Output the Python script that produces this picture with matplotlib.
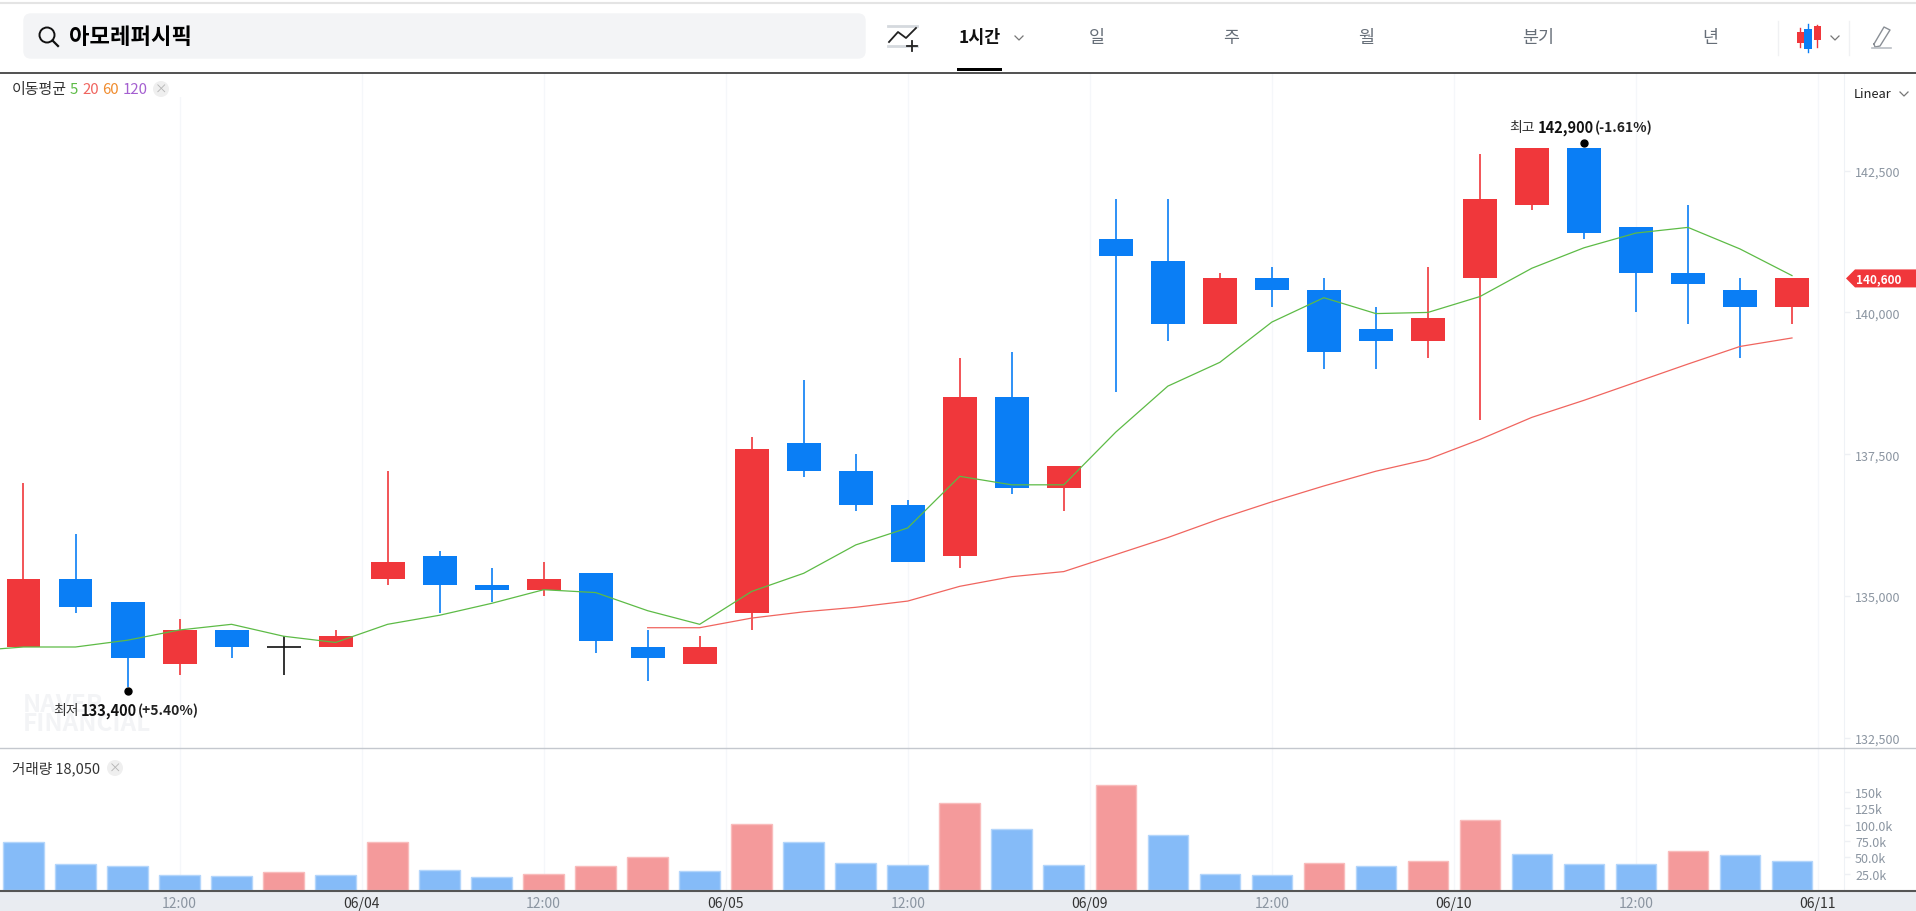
#!/usr/bin/env python3
"""1시간 candle chart for 아모레퍼시픽 with moving averages and volume."""

import matplotlib

matplotlib.use("Agg")
import matplotlib.pyplot as plt
import numpy as np
from matplotlib.patches import Circle, FancyBboxPatch, Polygon, Rectangle

plt.rcParams["font.family"] = ["Noto Sans CJK KR", "DejaVu Sans"]

W, H = 1916, 912
UP, DOWN, FLAT = "#f0373b", "#0a7ef5", "#111111"
UP_VOL, DOWN_VOL = "#f49a9b", "#85bbf8"
AXIS_TEXT = "#8b95a1"
GRID = "#f5f7fa"

# hourly candles
opens = [134100, 135300, 134900, 133800, 134400, 134100, 134100, 135300, 135700, 135200, 135100, 135400,
         134100, 133800, 134700, 137700, 137200, 136600, 135700, 138500, 136900, 141300, 140900, 139800,
         140600, 140400, 139700, 139500, 140600, 141900, 142900, 141500, 140700, 140400, 140100]
closes = [135300, 134800, 133900, 134400, 134100, 134100, 134300, 135600, 135200, 135100, 135300, 134200,
          133900, 134100, 137600, 137200, 136600, 135600, 138500, 136900, 137300, 141000, 139800, 140600,
          140400, 139300, 139500, 139900, 142000, 142900, 141400, 140700, 140500, 140100, 140600]
highs = [137000, 136100, 134900, 134600, 134400, 134300, 134400, 137200, 135800, 135500, 135600, 135400,
         134400, 134300, 137800, 138800, 137500, 136700, 139200, 139300, 137300, 142000, 142000, 140700,
         140800, 140600, 140100, 140800, 142800, 142900, 142900, 141500, 141900, 140600, 140600]
lows = [134100, 134700, 133400, 133600, 133900, 133600, 134100, 135200, 134700, 134900, 135000, 134000,
        133500, 133800, 134400, 137100, 136500, 135600, 135500, 136800, 136500, 138600, 139500, 139800,
        140100, 139000, 139000, 139200, 138100, 141800, 141300, 140000, 139800, 139200, 139800]
volumes = [73500, 40200, 36500, 23500, 21700, 27200, 23500, 73500, 30900, 19800, 25400, 36500,
           51300, 29000, 101000, 73500, 42000, 38300, 132700, 93900, 38300, 160500, 84600, 25400,
           23500, 42000, 36500, 43900, 106800, 55000, 40200, 40200, 60500, 53000, 43900]
# volume colour does not always follow the candle in the picture
volume_up = [0, 0, 0, 0, 0, 1, 0, 1, 0, 0, 1, 1,
             1, 0, 1, 0, 0, 0, 1, 0, 0, 1, 0, 0,
             0, 1, 0, 1, 1, 0, 0, 0, 1, 0, 0]

# first value of ma5 belongs to the candle just left of the chart
ma5 = [134030, 134100, 134100, 134220, 134400, 134500, 134290, 134180, 134500, 134660, 134870, 135110, 135060,
       134740, 134500, 135080, 135400, 135900, 136200, 137110, 136960, 136960, 137890, 138700, 139120,
       139830, 140260, 139980, 140000, 140280, 140780, 141140, 141400, 141500, 141120, 140650]
ma20 = [134440, 134440, 134610, 134720, 134800, 134910, 135170, 135340, 135430, 135730, 136030, 136360,
        136660, 136940, 137200, 137410, 137760, 138150, 138450, 138770, 139090, 139400, 139550]

price_ticks = [132500, 135000, 137500, 140000, 142500]
volume_ticks = [25000, 50000, 75000, 100000, 125000, 150000]
volume_tick_labels = ["25.0k", "50.0k", "75.0k", "100.0k", "125k", "150k"]
date_ticks = [3, 6.5, 10, 13.5, 17, 20.5, 24, 27.5, 31, 34.5]
date_labels = ["12:00", "06/04", "12:00", "06/05", "12:00", "06/09", "12:00", "06/10", "12:00", "06/11"]
last_price = 140600


def px_axes(fig, left, top, right, bottom):
    return fig.add_axes([left / W, 1 - bottom / H, (right - left) / W, (bottom - top) / H])


def chevron(ax, x, y, size=4, color="#777777"):
    ax.plot([x - size, x, x + size], [y - size / 2, y + size / 2, y - size / 2], color=color, lw=0.9)


def close_button(ax, x, y):
    ax.add_patch(Circle((x, y), 8, color="#efefef", lw=0))
    ax.text(x, y, "×", fontsize=9, color="#b5b5b5", ha="center", va="center")


fig = plt.figure(figsize=(W / 100, H / 100), dpi=100, facecolor="white")
fig.add_artist(Rectangle((0, 0), 1, 20.5 / H, transform=fig.transFigure, color="#e9ecf1", lw=0, zorder=-1))

ax = px_axes(fig, 0, 73.7, 1844, 748.7)
vol = px_axes(fig, 0, 748.7, 1844, 891.7)
x = np.arange(len(opens))

for axis in (ax, vol):
    axis.set_xlim(-0.4517, 35.0)
    axis.set_xticks(date_ticks)
    axis.grid(axis="x", color=GRID, lw=1)
    axis.set_axisbelow(True)
    axis.yaxis.tick_right()
    for name in ("top", "left", "bottom"):
        axis.spines[name].set_visible(False)
    axis.spines["right"].set_color("#eff2f6")

# price pane
ax.set_ylim(132324, 144228)
colors = [FLAT if c == o else (UP if c > o else DOWN) for o, c in zip(opens, closes)]
ax.vlines(x, lows, highs, colors=colors, lw=1.2, zorder=2)
bottoms = np.minimum(opens, closes)
heights = np.abs(np.array(closes) - np.array(opens))
ax.bar(x, heights, bottom=bottoms, width=0.653, color=colors, lw=0, zorder=3)
ax.hlines(closes[5], x[5] - 0.3265, x[5] + 0.3265, colors=FLAT, lw=1.2, zorder=3)
ax.plot(np.arange(-1, 35), ma5, color="#5dbb46", lw=0.9, zorder=4)
ax.plot(np.arange(12, 35), ma20, color="#f0655f", lw=0.9, zorder=4)
ax.set_yticks(price_ticks)
ax.set_yticklabels([f"{v:,}" for v in price_ticks])
ax.tick_params(axis="y", length=4, width=1, color="#eef0f4", labelcolor=AXIS_TEXT, labelsize=9, pad=4)
ax.tick_params(axis="x", length=0, labelbottom=False)
ax.plot([x[2]], [lows[2] - 80], "o", color="black", ms=5, zorder=5)
ax.plot([x[30]], [highs[30] + 80], "o", color="black", ms=5, zorder=5)

# volume pane
vol.set_ylim(-600, 217000)
vol_colors = [UP_VOL if up else DOWN_VOL for up in volume_up]
vol_edges = ["#f9bcbc" if up else "#b4d6fb" for up in volume_up]
vol.bar(x, volumes, width=0.78, color=vol_colors, edgecolor=vol_edges, lw=1, zorder=2)
vol.set_yticks(volume_ticks)
vol.set_yticklabels(volume_tick_labels)
vol.tick_params(axis="y", length=4, width=1, color="#eef0f4", labelcolor=AXIS_TEXT, labelsize=9, pad=4)
vol.set_xticklabels(date_labels)
vol.tick_params(axis="x", length=0, labelsize=10, pad=3.5, labelcolor="#333333")
for label, text in zip(vol.get_xticklabels(), date_labels):
    if text == "12:00":
        label.set_color(AXIS_TEXT)

# page furniture, drawn in figure pixels
ui = fig.add_axes([0, 0, 1, 1], facecolor="none")
ui.set_xlim(0, W)
ui.set_ylim(H, 0)
ui.axis("off")

ui.plot([0, W], [891.7, 891.7], color="#555555", lw=1.5)
ui.plot([0, W], [748.5, 748.5], color="#c4c8ce", lw=1)
ui.plot([0, W], [73.5, 73.5], color="#333333", lw=1.2)
ui.plot([0, W], [3.5, 3.5], color="#e4e4e4", lw=1.5)

ui.add_patch(FancyBboxPatch((24, 15), 841, 44, boxstyle="round,pad=0,rounding_size=7",
                            mutation_aspect=1, fc="#f3f4f6", ec="#f3f4f6", lw=1))
ui.add_patch(Circle((47, 36), 7.5, fc="none", ec="#111111", lw=1.4))
ui.plot([52.5, 58], [41.5, 47], color="#111111", lw=1.6)
ui.text(69, 38, "아모레퍼시픽", fontsize=16, fontweight="bold", color="#000000", va="center")

ui.plot([888, 917], [27, 27], color="#d5d9de", lw=2)
ui.plot([888, 917], [47, 47], color="#d5d9de", lw=2)
ui.plot([889, 898, 906, 916], [43, 33, 39, 29], color="#222222", lw=1.3)
ui.plot([912, 912], [42, 52], color="#222222", lw=1.3)
ui.plot([907, 917], [47, 47], color="#222222", lw=1.3)

ui.text(980, 38, "1시간", fontsize=12.5, fontweight="bold", color="#111111", ha="center", va="center")
chevron(ui, 1019, 39)
ui.add_patch(Rectangle((957, 69), 45, 3, color="#000000", lw=0))
for label, xpos in zip(["일", "주", "월", "분기", "년"], [1097, 1231, 1366, 1538, 1710]):
    ui.text(xpos, 38, label, fontsize=12.5, color="#666e78", ha="center", va="center")

ui.plot([1778, 1778], [22, 56], color="#f0f1f3", lw=1)
ui.plot([1849, 1849], [22, 56], color="#f0f1f3", lw=1)
ui.plot([1800, 1800], [29, 48], color=UP, lw=1)
ui.add_patch(Rectangle((1797, 33), 7, 11, color=UP, lw=0))
ui.plot([1808, 1808], [25, 53], color=DOWN, lw=1)
ui.add_patch(Rectangle((1804, 30), 8, 20, color=DOWN, lw=0))
ui.plot([1817, 1817], [26, 48], color=UP, lw=1)
ui.add_patch(Rectangle((1814, 27), 7, 14, color=UP, lw=0))
chevron(ui, 1835, 39)
ui.plot([1874, 1884, 1890, 1880, 1875, 1874], [45, 28, 31, 47, 48, 45], color="#8a8f96", lw=1)
ui.plot([1872, 1891], [49, 49], color="#b9bdc3", lw=1.2)

ui.text(1854, 94, "Linear", fontsize=9.3, color="#222222", ha="left", va="center")
chevron(ui, 1904, 95)

# moving average legend, the 12:00 grid line stops under it
ui.add_patch(Rectangle((0, 75), 185, 23, color="white", lw=0, zorder=0))
ui.text(12, 90, "이동평균", fontsize=10.8, color="#333333", va="center")
for label, xpos, color in zip(["5", "20", "60", "120"], [70, 82, 102, 123],
                              ["#5dbb46", "#f0655f", "#f08c2e", "#a45fd0"]):
    ui.text(xpos, 90, label, fontsize=10.8, color=color, va="center")
close_button(ui, 161, 90)

ui.text(12, 769, "거래량 18,050", fontsize=10.5, color="#333333", va="center")
close_button(ui, 115, 769)

# watermark
ui.text(23, 705, "NAVER", fontsize=17.5, fontweight="bold", color="#f3f4f6", va="center", zorder=0)
ui.text(23, 724, "FINANCIAL", fontsize=17.5, fontweight="bold", color="#f3f4f6", va="center", zorder=0)

# high and low notes
ui.text(53, 711, "최저", fontsize=10, color="#333333", va="center")
ui.text(81, 711, "133,400", fontsize=10.5, fontweight="bold", color="#111111", va="center")
ui.text(138, 711, "(+5.40%)", fontsize=10, fontweight="bold", color="#222222", va="center")
ui.text(1509, 128, "최고", fontsize=10, color="#333333", va="center")
ui.text(1538, 128, "142,900", fontsize=10.5, fontweight="bold", color="#111111", va="center")
ui.text(1595, 128, "(-1.61%)", fontsize=10, fontweight="bold", color="#222222", va="center")

# current price tag
tag_y = H - ax.transData.transform((0, last_price))[1]
ui.add_patch(Polygon([(1846, tag_y), (1855, tag_y - 9), (W, tag_y - 9), (W, tag_y + 9), (1855, tag_y + 9)],
                     color=UP, lw=0))
ui.text(1856, tag_y, f"{last_price:,}", fontsize=8.5, fontweight="bold", color="white", va="center")

fig.savefig("out.png", dpi=100)
